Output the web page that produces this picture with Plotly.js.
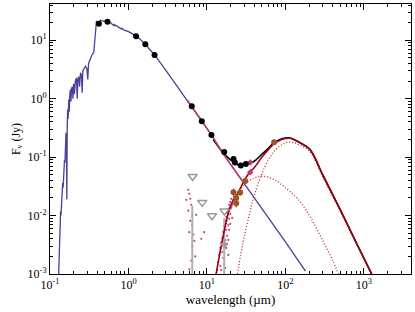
<!DOCTYPE html>
<html><head><meta charset="utf-8">
<script src="https://cdn.plot.ly/plotly-3.0.1.min.js"></script>
<style>html,body{margin:0;padding:0;background:#fff}#c{width:415px;height:312px}</style>
</head><body><div id="c"></div>
<script>
// Stellar photosphere model (um, Jy)
const photWl = [0.129,0.131,0.1335,0.135,0.1365,0.138,0.140,0.143,0.145,0.147,0.149,0.151,0.153,0.155,0.1575,0.160,0.162,0.164,0.1655,0.168,0.170,0.1734,0.176,0.179,0.1824,0.185,0.188,0.193,0.196,0.200,0.205,0.210,0.217,0.2226,0.226,0.232,0.238,0.245,0.252,0.257,0.262,0.270,0.283,0.295,0.303,0.310,0.320,0.328,0.344,0.361,0.368,0.372,0.380,0.391,0.410,0.439,0.486,0.500,0.589,0.656,0.660,0.789,0.820,0.830,0.869,1.00,1.25,1.28,1.30,1.64,2.15,3.0,4.0,5.0,6.4,8.6,11.4,14.8,20,30,50,100,180];
const photFx = [0.0010,0.0030,0.0060,0.0085,0.0120,0.0100,0.0190,0.0200,0.0360,0.0300,0.0540,0.0500,0.0900,0.0800,0.130,0.260,0.140,0.019,0.300,0.650,0.450,0.970,0.600,1.20,1.43,0.90,1.50,1.60,1.00,1.80,1.20,2.00,2.27,1.00,2.10,2.40,1.60,2.77,2.50,1.26,3.00,3.20,3.60,3.30,2.13,4.00,4.50,4.68,5.70,6.10,8.0,11.7,17.0,21.3,20.0,22.0,21.0,21.5,20.0,17.5,18.5,16.4,15.5,16.0,15.0,14.0,11.9,10.8,11.6,8.5,5.6,3.05,1.78,1.18,0.74,0.41,0.24,0.134,0.075,0.035,0.0132,0.00355,0.00112];
// IRS spectrum along photosphere
const irsWl = [5.6,6.4,8.0,10,12,15,18,21,25,28];
const irsFx = [0.95,0.74,0.48,0.31,0.215,0.134,0.092,0.069,0.049,0.040];
const irsPtWl = [35.6,35.6];
const irsPtFx = [0.081,0.055];
// Dust components
const warmWl = [13.1,15.5,20,25,30,40,52,70,100,150,206,300,400,472];
const warmFx = [0.001,0.0033,0.013,0.024,0.034,0.044,0.047,0.042,0.030,0.018,0.0096,0.0037,0.0017,0.001];
const coldWl = [24.5,27,30,35,40,50,60,70,85,100,115,130,160,206,300,500,800,1256];
const coldFx = [0.001,0.0022,0.0045,0.011,0.022,0.052,0.088,0.12,0.155,0.175,0.18,0.175,0.155,0.124,0.045,0.012,0.0034,0.001];
const dustWl = [13.1,15.5,19.8,25,30,35,40,50,60,70,85,100,115,130,160,206,300,500,800,1256];
const dustFx = [0.001,0.0034,0.0143,0.025,0.040,0.055,0.066,0.099,0.132,0.165,0.195,0.208,0.21,0.197,0.17,0.134,0.049,0.0125,0.0034,0.001];
const totWl = [12,15,17,20,23,25,28,30,35,40,50,60,70,85,100,115,130,160,206,300,500,800,1256];
const totFx = [0.2,0.133,0.109,0.09,0.079,0.073,0.074,0.074,0.08,0.085,0.112,0.14,0.172,0.2,0.212,0.213,0.199,0.171,0.135,0.049,0.0125,0.0034,0.001];
// Photometry
const photoWl = [0.42,0.54,1.25,1.64,2.15,6.4,8.6,11.4,16.6,21.8,22.7,27,31.3];
const photoFx = [19.2,20.7,11.7,8.5,5.6,0.74,0.41,0.24,0.122,0.093,0.081,0.072,0.076];
const excWl = [21.8,23.6,23.6,26.5,30.7,71.8];
const excFx = [0.025,0.020,0.0163,0.0248,0.039,0.18];
const excErr = [0.004,0.003,0.0025,0.003,0.004,0.01];
const limWl = [6.56,8.7,11.6,16.7];
const limFx = [0.0467,0.0168,0.0099,0.012];
const grayWl = [6.5,16.6];
const grayTop = [0.0147,0.0091];
const grayPtWl = [16.6];
const grayPtFx = [0.0032];
// Excess spectrum (noisy)
const spWl = [5.78,5.96,6.13,6.31,5.78,6.50,6.13,5.96,6.69,6.50,7.10,6.31,6.50,5.96,6.89,5.45,8.46,9.24,7.3,
 13.9,14.3,14.8,15.2,15.7,16.1,16.6,17.1,17.6,18.1,18.7,19.2,19.8,20.4,17.6,18.1,18.7,19.2,19.8,20.4,21.0,15.7,16.1,16.6,17.1,17.6,18.1,18.7,14.8,15.2,21.6,22.3,19.2,19.8,17.1,21.0,13.5,16.6,18.7];
const spFx = [0.0276,0.0236,0.0194,0.0153,0.0121,0.0098,0.0081,0.0052,0.0047,0.0030,0.0020,0.0017,0.0069,0.0012,0.0037,0.0186,0.0040,0.0052,0.0103,
 0.00161,0.00212,0.00279,0.0034,0.00414,0.00525,0.00665,0.00811,0.0095,0.0111,0.0130,0.0153,0.0172,0.0193,0.0057,0.0045,0.0069,0.0088,0.0107,0.0135,0.0153,0.00238,0.00188,0.00148,0.00127,0.00279,0.00327,0.00383,0.00137,0.00117,0.0186,0.0209,0.0057,0.0072,0.0038,0.0091,0.00117,0.00314,0.00212];

const xTickVals=[0.1,1,10,100,1000], xTickText=['10<sup>-1</sup>','10<sup>0</sup>','10<sup>1</sup>','10<sup>2</sup>','10<sup>3</sup>'];
const yTickVals=[0.001,0.01,0.1,1,10], yTickText=['10<sup>-3</sup>','10<sup>-2</sup>','10<sup>-1</sup>','10<sup>0</sup>','10<sup>1</sup>'];
function minors(a,b){const o=[];for(let e=a;e<=b;e++){for(let m=2;m<=9;m++)o.push(m*Math.pow(10,e));}return o;}

const grayX=[],grayY=[];
grayWl.forEach((w,i)=>{grayX.push(w,w,null);grayY.push(grayTop[i],0.0005,null);});

const dotted={color:'#b8282e',width:1.3,dash:'1px,2px',shape:'spline'};
const traces=[
 {x:warmWl,y:warmFx,mode:'lines',line:dotted,hoverinfo:'skip'},
 {x:coldWl,y:coldFx,mode:'lines',line:dotted,hoverinfo:'skip'},
 {x:spWl,y:spFx,mode:'markers',marker:{color:'#c8447c',size:2.2},hoverinfo:'skip'},
 {x:grayX,y:grayY,mode:'lines',line:{color:'#b0b0b0',width:2},hoverinfo:'skip'},
 {x:totWl,y:totFx,mode:'lines',line:{color:'#000',width:1.6,shape:'spline'}},
 {x:dustWl,y:dustFx,mode:'lines',line:{color:'#a00010',width:1.6,shape:'spline'}},
 {x:photWl,y:photFx,mode:'lines',line:{color:'#4b3f9a',width:1.3}},
 {x:irsWl,y:irsFx,mode:'lines',line:{color:'#c03a6e',width:1.5,shape:'spline'}},
 {x:irsPtWl,y:irsPtFx,mode:'markers',marker:{color:'#c03a6e',size:5,symbol:'diamond'}},
 {x:grayPtWl,y:grayPtFx,mode:'markers',marker:{color:'#a0a0a0',size:6,symbol:'diamond'}},
 {x:limWl,y:limFx,mode:'markers',marker:{symbol:'triangle-down-open',size:8,color:'#999',line:{width:1.5,color:'#999'}}},
 {x:excWl,y:excFx,mode:'markers',error_y:{type:'data',array:excErr,color:'#a0522d',thickness:1.2,width:0},marker:{color:'#a0522d',size:6}},
 {x:photoWl,y:photoFx,mode:'markers',marker:{color:'#000',size:6}}
];

const axCommon={type:'log',showline:true,linecolor:'#000',linewidth:1,mirror:'ticks',ticks:'inside',ticklen:6,tickwidth:1,tickcolor:'#000',
 showgrid:false,zeroline:false,tickfont:{family:'Liberation Serif',size:12,color:'#000'}};
const layout={
 width:415,height:312,margin:{l:50,r:4,t:4,b:38},showlegend:false,paper_bgcolor:'#fff',plot_bgcolor:'#fff',
 xaxis:Object.assign({},axCommon,{range:[-1,3.6],tickmode:'array',tickvals:xTickVals,ticktext:xTickText,
   minor:{tickmode:'array',tickvals:minors(-1,3),ticks:'inside',ticklen:3,tickcolor:'#000',tickwidth:1},
   title:{text:'wavelength (µm)',font:{family:'Liberation Serif',size:13,color:'#000'},standoff:0}}),
 yaxis:Object.assign({},axCommon,{range:[-3,1.62],tickmode:'array',tickvals:yTickVals,ticktext:yTickText,
   minor:{tickmode:'array',tickvals:minors(-3,1),ticks:'inside',ticklen:3,tickcolor:'#000',tickwidth:1},
   title:{text:'F<sub>ν</sub> (Jy)',font:{family:'Liberation Serif',size:12,color:'#000'},standoff:4}})
};
Plotly.newPlot('c',traces,layout,{displayModeBar:false,staticPlot:true});
</script></body></html>
